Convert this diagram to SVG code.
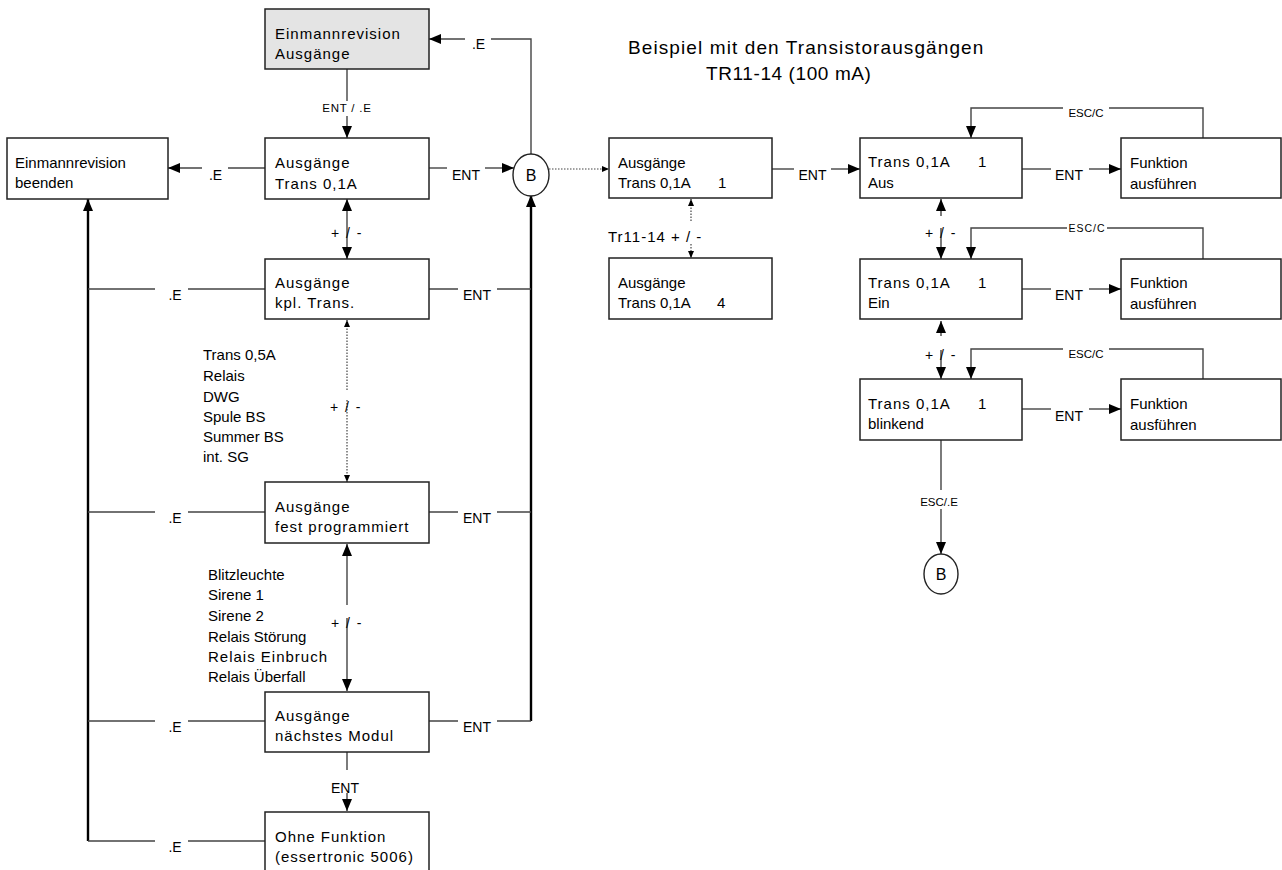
<svg xmlns="http://www.w3.org/2000/svg" width="1282" height="870" viewBox="0 0 1282 870">
<style>
text{font-family:"Liberation Sans",Arial,Helvetica,sans-serif;fill:#000}
.box{fill:#fff;stroke:#222;stroke-width:1.5}
.grey{fill:#e4e4e4}
.t{font-size:15px}
.sp{letter-spacing:1px}
.lab{font-size:14px}
.pm{font-size:14px;letter-spacing:1.5px}
.sm{font-size:11.5px}
.title{font-size:19px}
.mid{text-anchor:middle}
.ln{fill:none;stroke:#444;stroke-width:1.4}
.thick{fill:none;stroke:#000;stroke-width:2.4}
.dot{fill:none;stroke:#444;stroke-width:1.2;stroke-dasharray:1.5 1.5}
.ah{marker-end:url(#ah)}
.as{marker-end:url(#as)}
</style>
<defs>
<marker id="ah" viewBox="0 0 12 10" refX="12" refY="5" markerWidth="12" markerHeight="10" markerUnits="userSpaceOnUse" orient="auto"><path d="M0,0L12,5L0,10z" fill="#000"/></marker>
<marker id="as" viewBox="0 0 7 6" refX="7" refY="3" markerWidth="7" markerHeight="6" markerUnits="userSpaceOnUse" orient="auto"><path d="M0,0L7,3L0,6z" fill="#000"/></marker>
</defs>
<rect width="1282" height="870" fill="#fff"/>

<!-- heading -->
<g id="heading">
<text class="title" x="628" y="54" style="letter-spacing:1.1px">Beispiel mit den Transistorausgängen</text>
<text class="title" x="706" y="80" style="letter-spacing:0.6px">TR11-14 (100 mA)</text>
</g>

<!-- connectors -->
<g id="connectors">
<!-- Einmannrevision Ausgaenge -> Trans 0,1A -->
<path class="ln" d="M347,69V101"/>
<path class="ln ah" d="M347,116V138"/>
<text class="sm mid" x="347" y="112" style="letter-spacing:0.8px">ENT / .E</text>

<!-- Trans 0,1A -> Einmannrevision beenden -->
<path class="ln" d="M265,168H228"/>
<path class="ln ah" d="M202,168H168"/>
<text class="lab mid" x="215.5" y="180">.E</text>

<!-- Trans 0,1A -> B -->
<path class="ln" d="M429,168H447"/>
<path class="ln ah" d="M485,168H514"/>
<text class="lab mid" x="466" y="180">ENT</text>

<!-- B -> Einmannrevision Ausgaenge -->
<path class="ln" d="M531,154V39H491"/>
<path class="ln ah" d="M465,39H429"/>
<text class="lab mid" x="478.5" y="49">.E</text>

<!-- +/- between the left column menus -->
<path class="ln ah" d="M347,226V199"/>
<path class="ln ah" d="M347,226V259"/>
<text class="pm mid" x="347" y="238">+ / -</text>

<path class="dot as" d="M347,390V320"/>
<path class="dot as" d="M347,400V482"/>
<text class="pm mid" x="346" y="412">+ / -</text>

<path class="ln ah" d="M347,605V544"/>
<path class="ln ah" d="M347,618V691"/>
<text class="pm mid" x="347" y="628">+ / -</text>

<!-- naechstes Modul -> Ohne Funktion -->
<path class="ln" d="M347,752V770"/>
<path class="ln ah" d="M347,793V811"/>
<text class="lab mid" x="345" y="793">ENT</text>

<!-- .E return rail -->
<path class="thick ah" d="M88,841V199"/>
<path class="ln" d="M265,289H188M155,289H88"/>
<text class="lab mid" x="175" y="300">.E</text>
<path class="ln" d="M265,512H188M155,512H88"/>
<text class="lab mid" x="175" y="523">.E</text>
<path class="ln" d="M265,721H188M155,721H88"/>
<text class="lab mid" x="175" y="732">.E</text>
<path class="ln" d="M265,841H188M155,841H88"/>
<text class="lab mid" x="175" y="852">.E</text>

<!-- ENT rail to B -->
<path class="thick ah" d="M531,721V195"/>
<path class="ln" d="M429,289H458M497,289H531"/>
<text class="lab mid" x="477" y="300">ENT</text>
<path class="ln" d="M429,512H458M497,512H531"/>
<text class="lab mid" x="477" y="523">ENT</text>
<path class="ln" d="M429,721H458M497,721H531"/>
<text class="lab mid" x="477" y="732">ENT</text>

<!-- B -> Ausgaenge Trans 0,1A 1 -->
<path class="dot as" d="M549,169H609"/>

<!-- right column -->
<path class="ln" d="M772,169H794"/>
<path class="ln ah" d="M831,169H860"/>
<text class="lab mid" x="812.5" y="180">ENT</text>

<path class="dot as" d="M691,221V199"/>
<path class="dot as" d="M691,244V258"/>
<text class="t sp" x="608" y="242">Tr11-14 + / -</text>

<path class="ln" d="M1022,169H1051"/>
<path class="ln ah" d="M1089,169H1121"/>
<text class="lab mid" x="1069" y="180">ENT</text>

<path class="ln" d="M1203,138V108H1109"/>
<path class="ln ah" d="M1063,108H971V138"/>
<text class="sm mid" x="1086" y="117">ESC/C</text>

<path class="ln ah" d="M941,216V199"/>
<path class="ln ah" d="M941,228V259"/>
<text class="pm mid" x="941" y="238">+ / -</text>

<path class="ln" d="M1203,259V228H1107"/>
<path class="ln ah" d="M1067,228H971V259"/>
<text class="sm mid" x="1087" y="232" style="font-size:10.5px;letter-spacing:1px">ESC/C</text>

<path class="ln" d="M1022,289H1051"/>
<path class="ln ah" d="M1089,289H1121"/>
<text class="lab mid" x="1069" y="300">ENT</text>

<path class="ln ah" d="M941,336V321"/>
<path class="ln ah" d="M941,350V379"/>
<text class="pm mid" x="941" y="360">+ / -</text>

<path class="ln" d="M1203,379V349H1109"/>
<path class="ln ah" d="M1063,349H971V379"/>
<text class="sm mid" x="1086" y="358">ESC/C</text>

<path class="ln" d="M1022,409H1051"/>
<path class="ln ah" d="M1089,409H1121"/>
<text class="lab mid" x="1069" y="421">ENT</text>

<path class="ln" d="M941,440V490"/>
<path class="ln ah" d="M941,509V554"/>
<text class="sm mid" x="939" y="506">ESC/.E</text>
</g>

<!-- option lists -->
<g id="list-outputs" class="t">
<text x="203" y="360">Trans 0,5A</text>
<text x="203" y="381">Relais</text>
<text x="203" y="402">DWG</text>
<text x="203" y="422">Spule BS</text>
<text x="203" y="442">Summer BS</text>
<text x="203" y="462">int. SG</text>
</g>
<g id="list-fixed" class="t">
<text x="208" y="580">Blitzleuchte</text>
<text x="208" y="600">Sirene 1</text>
<text x="208" y="621">Sirene 2</text>
<text x="208" y="642">Relais Störung</text>
<text x="208" y="662" class="sp">Relais Einbruch</text>
<text x="208" y="682">Relais Überfall</text>
</g>

<!-- menu nodes -->
<g id="n-einmann-ausgaenge">
<rect class="box grey" x="265" y="9" width="164" height="60"/>
<text class="t sp" x="275" y="39">Einmannrevision</text>
<text class="t sp" x="275" y="59">Ausgänge</text>
</g>
<g id="n-beenden">
<rect class="box" x="7" y="138" width="161" height="61"/>
<text class="t" x="15" y="168">Einmannrevision</text>
<text class="t" x="15" y="188">beenden</text>
</g>
<g id="n-trans01">
<rect class="box" x="265" y="138" width="164" height="61"/>
<text class="t sp" x="275" y="168">Ausgänge</text>
<text class="t sp" x="275" y="189">Trans 0,1A</text>
</g>
<g id="n-kpl">
<rect class="box" x="265" y="259" width="164" height="60"/>
<text class="t sp" x="275" y="288">Ausgänge</text>
<text class="t sp" x="275" y="308">kpl. Trans.</text>
</g>
<g id="n-fest">
<rect class="box" x="265" y="482" width="164" height="61"/>
<text class="t sp" x="275" y="512">Ausgänge</text>
<text class="t sp" x="275" y="532">fest programmiert</text>
</g>
<g id="n-naechstes">
<rect class="box" x="265" y="692" width="164" height="60"/>
<text class="t sp" x="275" y="721">Ausgänge</text>
<text class="t sp" x="275" y="741">nächstes Modul</text>
</g>
<g id="n-ohne">
<rect class="box" x="265" y="812" width="164" height="70"/>
<text class="t sp" x="275" y="842">Ohne Funktion</text>
<text class="t sp" x="275" y="862">(essertronic 5006)</text>
</g>
<g id="n-b1">
<ellipse cx="531" cy="175" rx="18" ry="21" fill="#fff" stroke="#222" stroke-width="1.4"/>
<text class="t mid" x="531" y="181" style="font-size:16px">B</text>
</g>

<g id="n-tr1">
<rect class="box" x="609" y="138" width="163" height="60"/>
<text class="t" x="618" y="168">Ausgänge</text>
<text class="t" x="618" y="188">Trans 0,1A</text>
<text class="t" x="718" y="188">1</text>
</g>
<g id="n-tr4">
<rect class="box" x="609" y="258" width="163" height="61"/>
<text class="t" x="618" y="288">Ausgänge</text>
<text class="t" x="618" y="308">Trans 0,1A</text>
<text class="t" x="717" y="308">4</text>
</g>
<g id="n-aus">
<rect class="box" x="860" y="138" width="162" height="60"/>
<text class="t sp" x="868" y="167">Trans 0,1A</text>
<text class="t" x="978" y="167">1</text>
<text class="t" x="868" y="188">Aus</text>
</g>
<g id="n-ein">
<rect class="box" x="860" y="259" width="162" height="60"/>
<text class="t sp" x="868" y="288">Trans 0,1A</text>
<text class="t" x="978" y="288">1</text>
<text class="t" x="868" y="308">Ein</text>
</g>
<g id="n-blinkend">
<rect class="box" x="860" y="379" width="162" height="61"/>
<text class="t sp" x="868" y="409">Trans 0,1A</text>
<text class="t" x="978" y="409">1</text>
<text class="t" x="868" y="429">blinkend</text>
</g>
<g id="n-fkt1">
<rect class="box" x="1121" y="138" width="160" height="60"/>
<text class="t" x="1130" y="168">Funktion</text>
<text class="t" x="1130" y="189">ausführen</text>
</g>
<g id="n-fkt2">
<rect class="box" x="1121" y="259" width="160" height="60"/>
<text class="t" x="1130" y="288">Funktion</text>
<text class="t" x="1130" y="309">ausführen</text>
</g>
<g id="n-fkt3">
<rect class="box" x="1121" y="379" width="160" height="61"/>
<text class="t" x="1130" y="409">Funktion</text>
<text class="t" x="1130" y="430">ausführen</text>
</g>
<g id="n-b2">
<ellipse cx="941" cy="574" rx="17" ry="20" fill="#fff" stroke="#222" stroke-width="1.4"/>
<text class="t mid" x="941" y="580" style="font-size:16px">B</text>
</g>
</svg>
